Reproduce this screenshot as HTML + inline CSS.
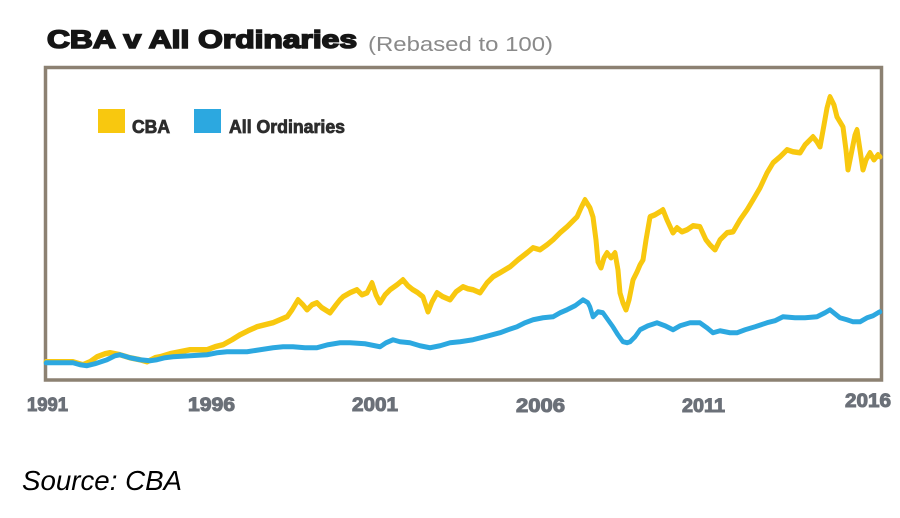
<!DOCTYPE html>
<html>
<head>
<meta charset="utf-8">
<style>
html,body{margin:0;padding:0;background:#fff;}
svg{display:block;}
</style>
</head>
<body>
<svg width="900" height="518" viewBox="0 0 900 518" xmlns="http://www.w3.org/2000/svg">
  <defs>
    <polyline id="cba" fill="none" stroke-linejoin="round" stroke-linecap="round"
    points="46,362 60,362 73,362 83,365 90,362 97,357 105,354 110,353 120,355 130,358 140,360 147,362 155,358 160,357 170,354 180,352 190,350 200,350 207,350 215,347 223,345 232,340 240,335 248,331 257,327 265,325 273,323 280,320 287,317 292,310 298,300 303,305 307,310 312,305 317,303 322,308 330,313 336,305 340,300 343,297 350,293 357,290 362,295 367,293 372,283 376,295 380,303 385,295 390,290 397,285 403,280 408,286 413,290 418,293 423,297 428,312 432,302 437,293 443,297 450,300 456,292 463,287 468,289 473,290 480,293 487,283 493,277 500,273 505,270 510,267 518,260 527,253 533,248 540,250 547,245 553,240 560,233 567,227 572,222 577,217 581,208 585,200 590,208 593,217 596,240 598,262 601,268 604,258 607,253 611,258 615,253 618,270 620,293 623,303 626,310 629,300 633,280 637,272 640,265 643,260 646,240 650,217 655,215 660,212 663,210 667,220 673,233 677,228 682,232 687,230 693,226 700,227 706,240 710,245 715,250 720,240 727,233 733,232 740,220 747,210 753,200 760,188 767,173 773,163 780,157 787,150 793,152 800,153 805,145 810,140 813,137 817,142 820,147 824,125 827,108 830,97 834,105 837,117 840,122 843,127 846,150 848,170 851,155 855,135 857,130 860,150 863,170 866,160 870,153 874,160 878,155 880,157"/>
    <polyline id="ao" fill="none" stroke-linejoin="round" stroke-linecap="round"
    points="46,363 60,363 73,363 80,365 87,366 95,364 107,360 115,356 120,355 130,358 140,360 150,361 157,360 165,358 173,357 190,356 207,355 217,353 227,352 237,352 247,352 260,350 273,348 283,347 293,347 305,348 317,348 328,345 340,343 350,343 365,344 380,347 386,343 393,340 400,342 410,343 420,346 430,348 440,346 450,343 460,342 473,340 485,337 500,333 508,330 517,327 525,323 533,320 543,318 553,317 560,313 567,310 575,306 583,300 588,303 590,307 593,317 598,312 603,313 608,320 613,327 618,335 623,342 627,343 630,342 635,337 640,330 648,326 657,323 665,326 673,330 680,326 690,323 700,323 707,328 713,333 720,331 730,333 737,333 745,330 755,327 767,323 775,321 783,317 795,318 805,318 817,317 825,313 830,310 835,314 840,318 847,320 853,322 860,322 867,318 873,316 878,313 880,312"/>
  </defs>
  <rect x="0" y="0" width="900" height="518" fill="#ffffff"/>
  <!-- Title -->
  <text x="47" y="48" font-family="Liberation Sans, sans-serif" font-weight="bold" font-size="25" fill="#151515" stroke="#151515" stroke-width="1.6" textLength="310" lengthAdjust="spacingAndGlyphs">CBA v All Ordinaries</text>
  <text x="368" y="51" font-family="Liberation Sans, sans-serif" font-size="20" fill="#8a8a8a" textLength="185" lengthAdjust="spacingAndGlyphs">(Rebased to 100)</text>

  <!-- Frame -->
  <rect x="45.5" y="67.5" width="836" height="312.5" fill="#ffffff" stroke="#8c8172" stroke-width="3.5"/>

  <!-- Legend -->
  <rect x="98" y="109" width="27" height="24" fill="#f8c80f"/>
  <text x="132" y="133" font-family="Liberation Sans, sans-serif" font-weight="bold" font-size="18" fill="#2d2d2d" stroke="#2d2d2d" stroke-width="0.8" textLength="38" lengthAdjust="spacingAndGlyphs">CBA</text>
  <rect x="194" y="109" width="27" height="24" fill="#2ca8e0"/>
  <text x="229" y="133" font-family="Liberation Sans, sans-serif" font-weight="bold" font-size="18" fill="#2d2d2d" stroke="#2d2d2d" stroke-width="0.8" textLength="116" lengthAdjust="spacingAndGlyphs">All Ordinaries</text>

  <!-- CBA series -->
  <use href="#cba" stroke="#f8c80f" stroke-width="5"/>
  <use href="#cba" stroke="#f8c80f" stroke-width="4" transform="translate(0,-1)"/>

  <!-- All Ordinaries series -->
  <use href="#ao" stroke="#2ca8e0" stroke-width="4.5"/>
  <use href="#ao" stroke="#2ca8e0" stroke-width="3.5" transform="translate(0,-1)"/>

  <!-- Year labels -->
  <g font-family="Liberation Sans, sans-serif" font-weight="bold" font-size="19" fill="#6b7078" stroke="#6b7078" stroke-width="1">
    <text x="27" y="411" textLength="41" lengthAdjust="spacingAndGlyphs">1991</text>
    <text x="188" y="411" textLength="47" lengthAdjust="spacingAndGlyphs">1996</text>
    <text x="352" y="411" textLength="46" lengthAdjust="spacingAndGlyphs">2001</text>
    <text x="516" y="412" textLength="49" lengthAdjust="spacingAndGlyphs">2006</text>
    <text x="682" y="412" textLength="43" lengthAdjust="spacingAndGlyphs">2011</text>
    <text x="845" y="407" textLength="46" lengthAdjust="spacingAndGlyphs">2016</text>
  </g>

  <!-- Source -->
  <text x="22" y="490" font-family="Liberation Sans, sans-serif" font-style="italic" font-size="28" fill="#000" textLength="160" lengthAdjust="spacingAndGlyphs">Source: CBA</text>
</svg>
</body>
</html>
